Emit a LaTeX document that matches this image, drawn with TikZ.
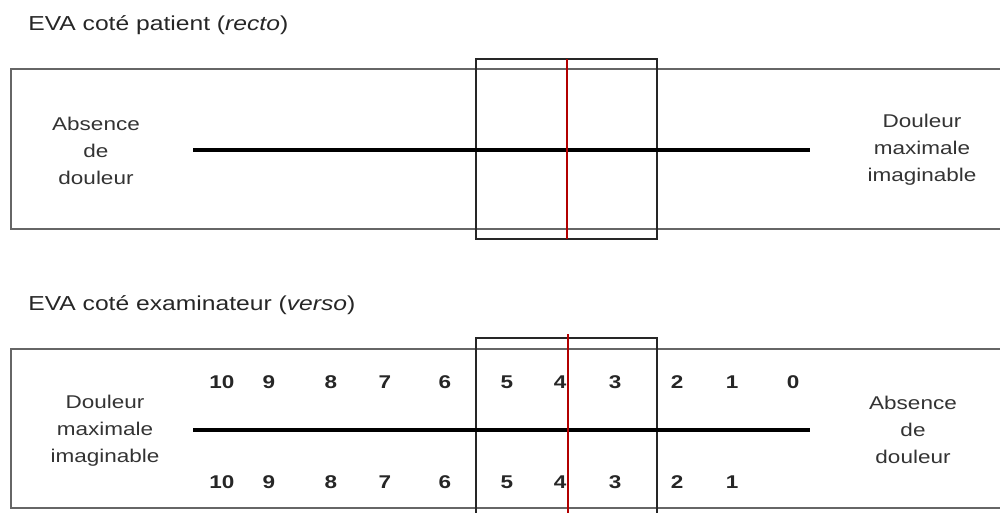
\documentclass[tikz,border=0pt]{standalone}
\usepackage{fontspec}
\setmainfont{Liberation Sans}[FakeStretch=1.22]
\usetikzlibrary{positioning}

\begin{document}
\begin{tikzpicture}[x=0.02cm,y=-0.02cm,
    frame/.style={draw=black!60,line width=1.1pt},
    slider/.style={draw=black!85,line width=0.8pt},
    cursor/.style={draw=red!70!black,line width=1.1pt},
    scale line/.style={draw=black,line width=2.8pt},
    side text/.style={align=center,text=black!80,font=\fontsize{10.5}{15.3}\selectfont},
    side title/.style={anchor=base west,inner sep=0pt,text=black!85,font=\fontsize{11.5}{13}\selectfont},
    grade/.style={text=black!85,font=\fontsize{10.5}{12}\selectfont\bfseries}]

    \useasboundingbox (0,0) rectangle (1000,513);
    \clip (0,0) rectangle (1000,513);

    % recto
    \node[side title] (recto) at (28,31) {EVA coté patient (\textit{recto})};
    \draw[frame] (11,69) rectangle (1010,229);
    \draw[slider] (476,59) rectangle (657,239);
    \coordinate (r-min) at (193,150);
    \coordinate (r-max) at (810,150);
    \draw[scale line] (r-min) -- (r-max);
    \node[side text] (r-none) at (96,151) {Absence\\de\\douleur};
    \node[side text] (r-worst) at (922,150) {Douleur\\maximale\\imaginable};
    \coordinate (r-top) at (567,59);
    \coordinate (r-bot) at (567,239);
    \draw[cursor] (r-top) -- (r-bot);

    % verso
    \node[side title] (verso) at (28,310) {EVA coté examinateur (\textit{verso})};
    \draw[frame] (11,349) rectangle (1010,508);
    \draw[slider] (476,338) rectangle (657,525);
    \coordinate (v-max) at (193,430);
    \coordinate (v-min) at (810,430);
    \draw[scale line] (v-max) -- (v-min);
    \node[side text] (v-worst) at (105,431) {Douleur\\maximale\\imaginable};
    \node[side text] (v-none) at (913,430) {Absence\\de\\douleur};
    \foreach \x/\n in {222/10,269/9,331/8,385/7,445/6,507/5,560/4,615/3,677/2,732/1,793/0}
        \node[grade] (up\n) at (\x,382) {\n};
    \foreach \x/\n in {222/10,269/9,331/8,385/7,445/6,507/5,560/4,615/3,677/2,732/1}
        \node[grade] (lo\n) at (\x,482) {\n};
    \coordinate (v-top) at (568,334);
    \coordinate (v-bot) at (568,525);
    \draw[cursor] (v-top) -- (v-bot);
\end{tikzpicture}
\end{document}
